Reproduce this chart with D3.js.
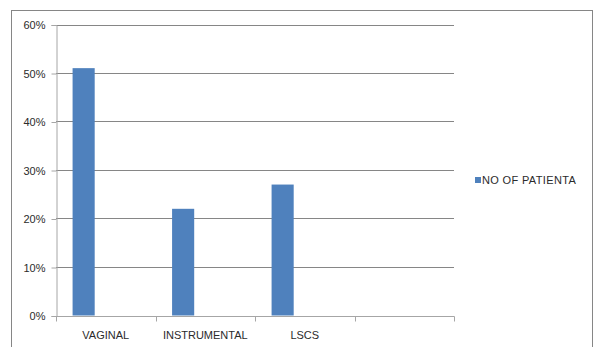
<!DOCTYPE html>
<html>
<head>
<meta charset="utf-8">
<script src="https://cdn.jsdelivr.net/npm/d3@7"></script>
<style>
  html, body { margin: 0; padding: 0; background: #fff; }
  svg { display: block; font-family: "Liberation Sans", Arial, sans-serif; }
</style>
</head>
<body>
<svg id="chart" width="603" height="347"></svg>
<script>
// Mode of delivery, share of patients
const categories = ["VAGINAL", "INSTRUMENTAL", "LSCS", ""];
const seriesNames = ["NO OF PATIENTA", "s2", "s3"];
const patientShare = [0.51, 0.22, 0.27, null];
const yTicks = [0, 0.1, 0.2, 0.3, 0.4, 0.5, 0.6];

const svg = d3.select("#chart");

// outer frame
svg.append("rect")
  .attr("x", 11.5).attr("y", 10.5)
  .attr("width", 581).attr("height", 345)
  .attr("fill", "#fff").attr("stroke", "#868686").attr("stroke-width", 1);

const plot = { left: 56, right: 454, top: 24.5, bottom: 315.5 };

const x = d3.scaleBand().domain(categories)
  .range([plot.left, plot.right]).paddingInner(0).paddingOuter(0);
// three series slots per category, only the first carries data
const xs = d3.scaleBand().domain(seriesNames)
  .range([0, x.bandwidth()]).paddingInner(0).paddingOuter(0.75);
const y = d3.scaleLinear().domain([0, 0.6]).range([plot.bottom, plot.top]);

// horizontal gridlines
svg.append("g").selectAll("line")
  .data(yTicks.filter(t => t > 0))
  .join("line")
  .attr("x1", plot.left).attr("x2", plot.right)
  .attr("y1", d => Math.round(y(d)) + 0.5).attr("y2", d => Math.round(y(d)) + 0.5)
  .attr("stroke", "#868686").attr("stroke-width", 1);

// bars
svg.append("g").selectAll("rect")
  .data(categories.map((c, i) => ({ c, v: patientShare[i] })).filter(d => d.v != null))
  .join("rect")
  .attr("x", d => x(d.c) + xs(seriesNames[0]))
  .attr("width", xs.bandwidth())
  .attr("y", d => y(d.v))
  .attr("height", d => y(0) - y(d.v))
  .attr("fill", "#4F81BD");

// y axis
const yAxis = d3.axisLeft(y).tickValues(yTicks).tickFormat(d3.format(".0%")).tickSize(5).tickPadding(6);
const gy = svg.append("g").attr("transform", `translate(${plot.left + 0.5},0.5)`).call(yAxis);
gy.select(".domain").attr("stroke", "#a6a6a6");
gy.selectAll(".tick line").attr("stroke", "#a6a6a6");
gy.selectAll(".tick text").attr("fill", "#2b2b2b").attr("font-size", 11)
  .attr("font-family", "Liberation Sans, Arial, sans-serif");

// x axis with ticks at category boundaries
const gx = svg.append("g").attr("transform", `translate(0,${Math.round(plot.bottom) + 0.5})`);
gx.append("line").attr("x1", plot.left).attr("x2", plot.right + 0.5)
  .attr("stroke", "#a6a6a6");
const bounds = categories.map(c => x(c)).concat([x(categories[categories.length - 1]) + x.bandwidth()]);
gx.selectAll("line.tk").data(bounds).join("line").attr("class", "tk")
  .attr("x1", d => Math.round(d) + 0.5).attr("x2", d => Math.round(d) + 0.5)
  .attr("y1", 0).attr("y2", 5).attr("stroke", "#a6a6a6");
gx.selectAll("text").data(categories).join("text")
  .attr("x", d => x(d) + x.bandwidth() / 2)
  .attr("y", 22)
  .attr("text-anchor", "middle")
  .attr("fill", "#2b2b2b").attr("font-size", 11)
  .text(d => d);

// legend
const lg = svg.append("g").attr("transform", "translate(475,177)");
lg.append("rect").attr("width", 6).attr("height", 6).attr("fill", "#4F81BD");
lg.append("text").attr("x", 7).attr("y", 6.5)
  .attr("fill", "#2b2b2b").attr("font-size", 11).attr("letter-spacing", 0.35)
  .text(seriesNames[0]);
</script>
</body>
</html>
